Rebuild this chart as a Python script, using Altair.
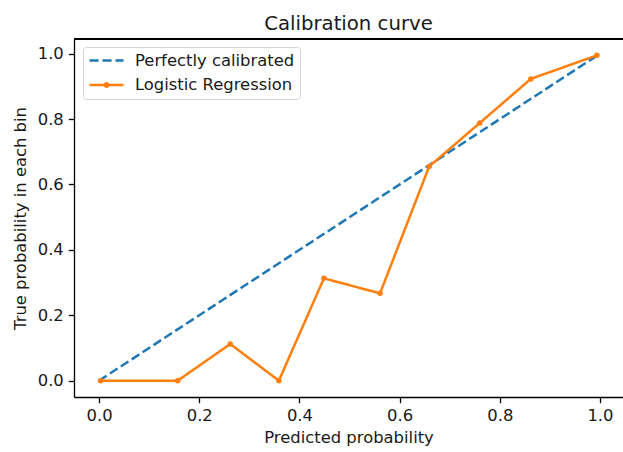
import altair as alt
import pandas as pd

# Data
perfect_x = [0.0, 1.0]
perfect_y = [0.0, 1.0]
lr_x = [0.003, 0.157, 0.262, 0.359, 0.449, 0.561, 0.659, 0.760, 0.862, 0.994]
lr_y = [0.0, 0.0, 0.112, 0.0, 0.313, 0.267, 0.655, 0.788, 0.923, 0.995]
series_names = ["Perfectly calibrated", "Logistic Regression"]
colors = ["#1f77b4", "#ff7f0e"]
ticks = [0.0, 0.2, 0.4, 0.6, 0.8, 1.0]

df = pd.concat([
    pd.DataFrame({"x": perfect_x, "y": perfect_y, "series": series_names[0], "order": range(len(perfect_x))}),
    pd.DataFrame({"x": lr_x, "y": lr_y, "series": series_names[1], "order": range(len(lr_x))}),
])
df_lr = df[df["series"] == series_names[1]]

FONT = "DejaVu Sans"
TXT = "#1a1a1a"
FS = 16.4
W, H = 549, 358

xscale = alt.Scale(domain=[-0.05, 1.046], nice=False, zero=False)
yscale = alt.Scale(domain=[-0.05, 1.045], nice=False, zero=False)

common_axis = dict(values=ticks, format=".1f", grid=False,
                   domainColor="#000000", domainWidth=1.3, tickColor="#000000", tickWidth=1.3, tickSize=5.7,
                   labelColor=TXT, labelFontSize=FS, labelFont=FONT, labelPadding=5,
                   titleFont=FONT, titleFontSize=FS, titleFontWeight="normal", titleColor=TXT)

xenc = alt.X("x:Q", scale=xscale, axis=alt.Axis(title="Predicted probability", titlePadding=5, **common_axis))
yenc = alt.Y("y:Q", scale=yscale, axis=alt.Axis(title="True probability in each bin", titlePadding=9, **common_axis))

line_dot_path = "M-1,0H1M0.1,0A0.1,0.1,0,1,1,-0.1,0A0.1,0.1,0,1,1,0.1,0"
symbol_expr = f"datum.value === '{series_names[1]}' ? '{line_dot_path}' : 'stroke'"

color = alt.Color("series:N", scale=alt.Scale(domain=series_names, range=colors),
                  legend=alt.Legend(title=None, orient="none", legendX=9, legendY=8,
                                    symbolType={"expr": symbol_expr}, symbolSize=1156, symbolStrokeWidth=2.5,
                                    labelFont=FONT, labelFontSize=FS, labelColor=TXT,
                                    fillColor="white", strokeColor="#d6d6d6", cornerRadius=3,
                                    padding=5, rowPadding=7.5, labelOffset=10, clipHeight=17))
dash = alt.StrokeDash("series:N", scale=alt.Scale(domain=series_names, range=[[9.1, 3.9], [1, 0]]),
                      legend=None)

lines = alt.Chart(df).mark_line(strokeWidth=2.5).encode(
    x=xenc, y=yenc, color=color, strokeDash=dash, order="order:Q", detail="series:N")
points = alt.Chart(df_lr).mark_circle(size=30, opacity=1, color=colors[1]).encode(
    x="x:Q", y="y:Q")
top_spine = alt.Chart(df_lr).mark_rule(color="#000000", strokeWidth=1.3).encode(
    x=alt.value(0), x2=alt.value(W), y=alt.value(0))

chart = alt.layer(lines, points, top_spine).properties(
    width=W, height=H,
    title=alt.Title("Calibration curve", font=FONT, fontSize=19.7, fontWeight="normal",
                    color=TXT, anchor="middle", offset=5),
    autosize=alt.AutoSizeParams(type="none"),
    padding={"left": 74, "top": 39, "right": 0, "bottom": 55},
).configure_view(stroke=None).configure(background="white")

chart.save("out.html", embed_options={"renderer": "svg", "actions": False})
